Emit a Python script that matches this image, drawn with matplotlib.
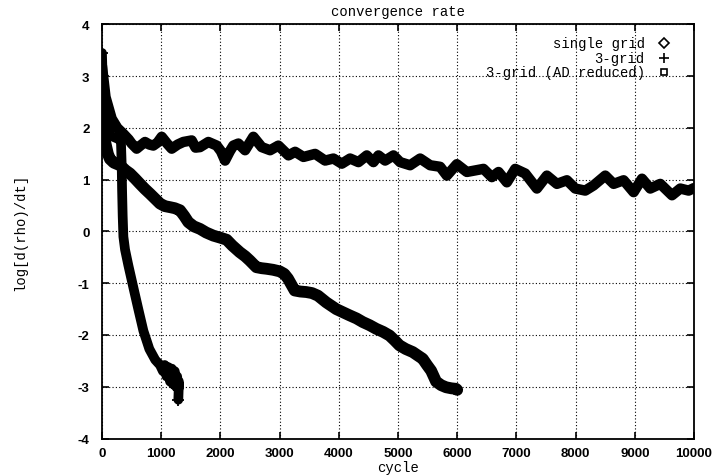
import numpy as np
import matplotlib
matplotlib.use('Agg')
import matplotlib.pyplot as plt

# single grid (diamonds)
cyc_single = [0, 60, 164, 260, 360, 450, 501, 586, 650, 727,
              800, 867, 940, 1009, 1100, 1178, 1280, 1374, 1516, 1580,
              1656, 1797, 1938, 2010, 2079, 2160, 2219, 2304, 2417, 2557,
              2699, 2840, 2980, 3150, 3263, 3403, 3600, 3769, 3910, 4051,
              4191, 4332, 4473, 4585, 4670, 4783, 4923, 5036, 5205, 5374,
              5543, 5712, 5825, 5994, 6163, 6304, 6444, 6585, 6698, 6839,
              6980, 7149, 7346, 7515, 7684, 7853, 7994, 8163, 8304, 8501,
              8642, 8811, 8980, 9121, 9261, 9430, 9628, 9768, 9909, 10000]
rate_single = [3.2, 2.6, 2.18, 2.0, 1.89, 1.78, 1.70, 1.60, 1.66, 1.73,
               1.68, 1.66, 1.72, 1.83, 1.70, 1.60, 1.68, 1.73, 1.76, 1.62,
               1.63, 1.73, 1.66, 1.55, 1.37, 1.55, 1.66, 1.70, 1.57, 1.83,
               1.63, 1.57, 1.66, 1.47, 1.54, 1.44, 1.50, 1.37, 1.41, 1.31,
               1.41, 1.34, 1.47, 1.34, 1.47, 1.37, 1.47, 1.34, 1.28, 1.41,
               1.28, 1.25, 1.08, 1.30, 1.15, 1.18, 1.21, 1.05, 1.15, 0.95,
               1.21, 1.12, 0.83, 1.08, 0.92, 0.99, 0.83, 0.79, 0.89, 1.08,
               0.92, 0.99, 0.76, 1.02, 0.83, 0.92, 0.70, 0.83, 0.79, 0.84]

# 3-grid (plus)
cyc_3grid = [0, 20, 60, 150, 250, 320, 333, 340, 350, 362,
             390, 445, 530, 614, 700, 800, 900, 980, 1030, 1060,
             1090, 1120, 1150, 1180, 1200, 1230, 1250, 1270, 1290, 1300,
             1290]
rate_3grid = [3.45, 2.6, 2.1, 1.85, 1.8, 1.76, 1.3, 0.8, 0.3, -0.1,
              -0.35, -0.65, -1.08, -1.5, -1.92, -2.27, -2.48, -2.58, -2.7, -2.58,
              -2.8, -2.62, -2.9, -2.65, -2.95, -2.7, -3.0, -2.8, -3.05, -2.9,
              -3.25]

# 3-grid, AD reduced (squares)
cyc_ad = [0, 20, 50, 100, 135, 200, 304, 400, 473, 560,
          642, 727, 811, 900, 980, 1060, 1149, 1230, 1318, 1390,
          1459, 1550, 1656, 1760, 1881, 2000, 2107, 2200, 2327, 2420,
          2496, 2608, 2700, 2777, 2890, 3002, 3080, 3142, 3255, 3350,
          3452, 3548, 3648, 3789, 3958, 4070, 4182, 4300, 4406, 4520,
          4632, 4750, 4857, 4940, 5025, 5130, 5250, 5340, 5418, 5490,
          5560, 5644, 5730, 5813, 5900, 5981, 6000]
rate_ad = [3.0, 2.2, 1.75, 1.5, 1.4, 1.33, 1.28, 1.18, 1.12, 1.02,
           0.92, 0.82, 0.73, 0.63, 0.54, 0.49, 0.47, 0.45, 0.41, 0.30,
           0.18, 0.10, 0.05, -0.02, -0.08, -0.12, -0.16, -0.27, -0.40, -0.48,
           -0.56, -0.69, -0.71, -0.72, -0.74, -0.77, -0.82, -0.91, -1.14, -1.16,
           -1.17, -1.19, -1.24, -1.37, -1.50, -1.56, -1.62, -1.68, -1.75, -1.81,
           -1.88, -1.94, -2.01, -2.10, -2.20, -2.27, -2.33, -2.40, -2.46, -2.58,
           -2.69, -2.90, -2.97, -3.01, -3.03, -3.04, -3.06]

labels = ['single grid', '3-grid', '3-grid (AD reduced)']
markers = ['D', '+', 's']

mono = 'Liberation Mono'
plt.rcParams['axes.unicode_minus'] = False

fig = plt.figure(figsize=(7.18, 4.77), dpi=100)
ax = fig.add_axes([0.142, 0.0786, 0.8246, 0.868])

series = [(cyc_single, rate_single, 7.5), (cyc_3grid, rate_3grid, 7.0),
          (cyc_ad, rate_ad, 8.5)]
for x, y, w in series:
    ax.plot(x, y, color='k', lw=w, solid_joinstyle='round',
            solid_capstyle='round', zorder=3)
# 3-grid end points poke out as plus marks
ax.plot(np.array(cyc_3grid)[[0, -1]], np.array(rate_3grid)[[0, -1]],
        ls='none', marker='+', ms=9, mew=1.3, color='k', zorder=4)

ax.set_xlim(0, 10000)
ax.set_ylim(-4, 4)
ax.set_xticks(np.arange(0, 10001, 1000))
ax.set_yticks(np.arange(-4, 5, 1))
ax.grid(True, color='k', lw=0.8, ls=(0, (1, 2)))
ax.tick_params(direction='in', top=True, right=True, length=5, width=1.2)
ax.tick_params(axis='y', pad=9)
ax.tick_params(axis='x', pad=6)
for lab in ax.get_xticklabels() + ax.get_yticklabels():
    lab.set_fontweight('bold')
    lab.set_fontsize(9.5)
    lab.set_family('Liberation Sans')
for sp in ax.spines.values():
    sp.set_linewidth(1.3)

ax.set_title('convergence rate', family=mono, fontsize=10, pad=7)
ax.set_xlabel('cycle', family=mono, fontsize=10, labelpad=1)
ax.set_ylabel('log[d(rho)/dt]', family=mono, fontsize=10, labelpad=36)

# legend in gnuplot style: right aligned text, marker to the right
rows = [0.955, 0.919, 0.885]
for lab, m, yy in zip(labels, markers, rows):
    ax.text(0.917, yy, lab, transform=ax.transAxes, ha='right', va='center',
            family=mono, fontsize=10)
    ax.plot([0.949], [yy], transform=ax.transAxes, marker=m, ms=5 if m != '+' else 7,
            mfc='white', mec='k', mew=1.2, ls='none', color='k', clip_on=False)

fig.savefig('out.png', dpi=100)
